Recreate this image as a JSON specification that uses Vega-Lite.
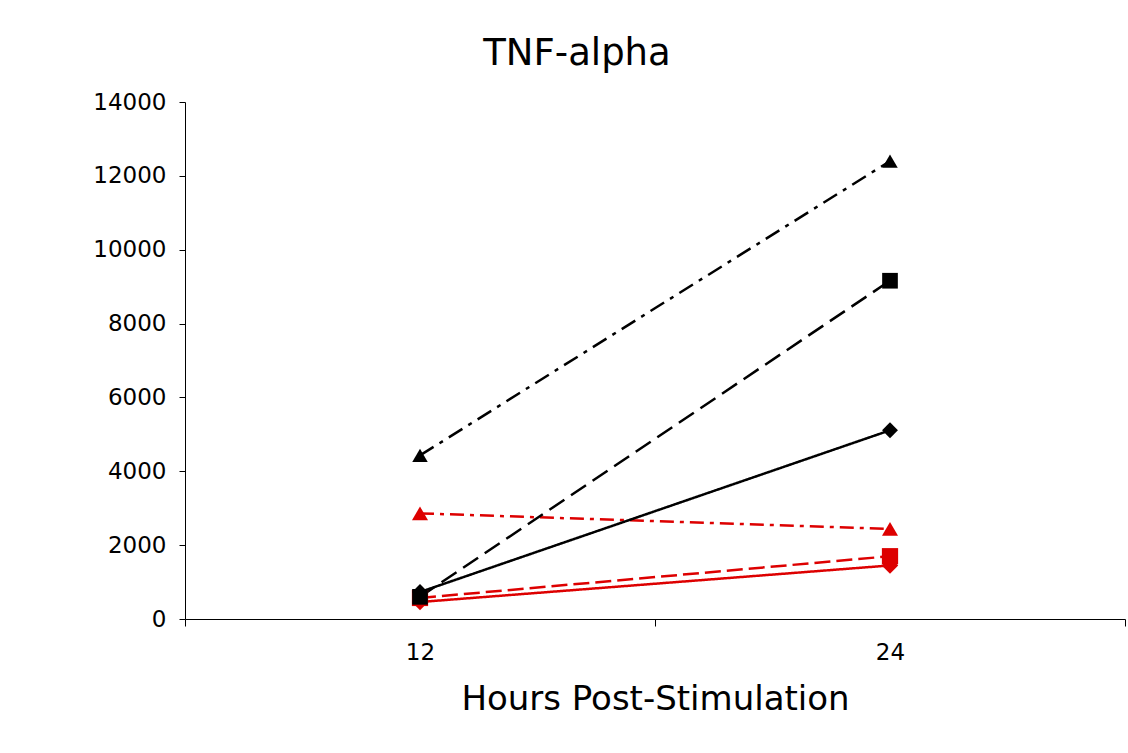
{
  "$schema": "https://vega.github.io/schema/vega-lite/v6.json",
  "width": 940,
  "height": 517,
  "autosize": {"type": "none"},
  "padding": {"left": 185, "top": 102, "right": 3, "bottom": 134},
  "background": "white",
  "config": {"view": {"stroke": null}, "font": "DejaVu Sans"},
  "title": {"text": "TNF-alpha", "fontSize": 37, "fontWeight": "normal", "color": "#000000", "font": "DejaVu Sans", "anchor": "middle", "dx": -78, "offset": 18},
  "data": {"values": [
    {"series": "S1", "hours": "12", "value": 460},
    {"series": "S1", "hours": "24", "value": 1450},
    {"series": "S2", "hours": "12", "value": 570},
    {"series": "S2", "hours": "24", "value": 1700},
    {"series": "S3", "hours": "12", "value": 2860},
    {"series": "S3", "hours": "24", "value": 2440},
    {"series": "S4", "hours": "12", "value": 730},
    {"series": "S4", "hours": "24", "value": 5110},
    {"series": "S5", "hours": "12", "value": 600},
    {"series": "S5", "hours": "24", "value": 9160},
    {"series": "S6", "hours": "12", "value": 4430},
    {"series": "S6", "hours": "24", "value": 12400}
  ]},
  "encoding": {
    "x": {"field": "hours", "type": "ordinal", "sort": ["12", "24"],
      "scale": {"type": "band", "paddingInner": 0, "paddingOuter": 0},
      "axis": {"title": "Hours Post-Stimulation", "labelAngle": 0, "tickBand": "extent", "domainColor": "#000000", "tickColor": "#000000", "tickSize": 7, "labelFontSize": 23, "labelColor": "#000000", "labelPadding": 15, "titleFontSize": 34, "titleFontWeight": "normal", "titleColor": "#000000", "titlePadding": 18, "labelFont": "DejaVu Sans", "titleFont": "DejaVu Sans"}},
    "y": {"field": "value", "type": "quantitative",
      "scale": {"domain": [0, 14000], "nice": false, "zero": true},
      "axis": {"title": null, "values": [0, 2000, 4000, 6000, 8000, 10000, 12000, 14000], "format": "d", "grid": false, "domainColor": "#000000", "tickColor": "#000000", "tickSize": 6, "labelFontSize": 23, "labelColor": "#000000", "labelPadding": 13, "labelFont": "DejaVu Sans"}},
    "color": {"field": "series", "type": "nominal", "legend": null,
      "scale": {"domain": ["S1", "S2", "S3", "S4", "S5", "S6"], "range": ["#DD0000", "#DD0000", "#DD0000", "#000000", "#000000", "#000000"]}}
  },
  "layer": [
    {
      "mark": {"type": "line"},
      "encoding": {
        "strokeDash": {"field": "series", "type": "nominal", "legend": null,
          "scale": {"domain": ["S1", "S2", "S3", "S4", "S5", "S6"], "range": [[1, 0], [16, 6], [14, 6, 4, 6], [1, 0], [18, 8], [16, 7, 4, 7]]}},
        "strokeWidth": {"field": "series", "type": "nominal", "legend": null,
          "scale": {"domain": ["S1", "S2", "S3", "S4", "S5", "S6"], "range": [2.5, 2.5, 2.5, 3.2, 3.2, 3.2]}}
      }
    },
    {
      "mark": {"type": "point", "filled": true, "opacity": 1},
      "encoding": {
        "shape": {"field": "series", "type": "nominal", "legend": null,
          "scale": {"domain": ["S1", "S2", "S3", "S4", "S5", "S6"], "range": ["diamond", "square", "triangle-up", "diamond", "square", "triangle-up"]}},
        "size": {"field": "series", "type": "nominal", "legend": null,
          "scale": {"domain": ["S1", "S2", "S3", "S4", "S5", "S6"], "range": [270, 240, 320, 270, 240, 320]}}
      }
    }
  ]
}
